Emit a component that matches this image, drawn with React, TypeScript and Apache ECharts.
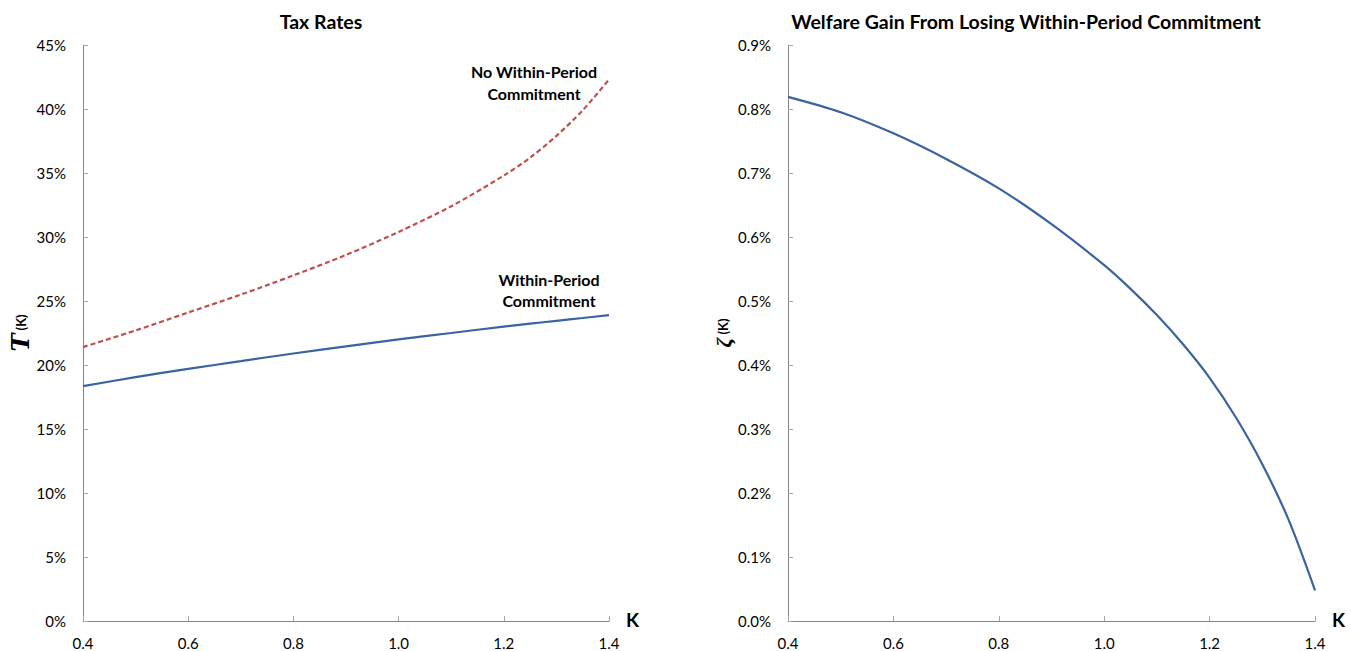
import React, { useEffect, useRef } from 'react';
import * as echarts from 'echarts';

const kTax = [0.4, 0.5, 0.6, 0.7, 0.8, 0.9, 1.0, 1.1, 1.2, 1.25, 1.3, 1.35, 1.4];
const taxCommit = [18.35, 19.05, 19.7, 20.3, 20.9, 21.45, 22.0, 22.5, 23.0, 23.23, 23.45, 23.67, 23.9];
const taxNoCommit = [21.4, 22.7, 24.1, 25.5, 27.0, 28.6, 30.4, 32.4, 34.8, 36.2, 37.9, 39.9, 42.3];

const kWelfare = [0.4, 0.5, 0.6, 0.7, 0.8, 0.9, 1.0, 1.05, 1.1, 1.15, 1.2, 1.25, 1.3, 1.35, 1.4];
const welfareGain = [0.819, 0.795, 0.762, 0.722, 0.676, 0.62, 0.556, 0.519, 0.478, 0.432, 0.38, 0.318, 0.245, 0.158, 0.048];

const xTicks = { min: 0.4, max: 1.4, interval: 0.2 };
const taxTicks = { min: 0, max: 45, interval: 5 };
const welfareTicks = { min: 0, max: 0.9, interval: 0.1 };

const FONT = 'Lato, "Open Sans", sans-serif';
const AXIS_COLOR = '#868686';
const TICK_COLOR = '#A6A6A6';
const BLUE = '#3A63A0';
const RED = '#C0504D';

function pairs(xs: number[], ys: number[]) {
  return xs.map((x, i) => [x, ys[i]]);
}

export default function App() {
  const ref = useRef<HTMLDivElement>(null);
  useEffect(() => {
    if (!ref.current) return;
    const chart = echarts.init(ref.current, null, { renderer: 'svg' });
    const xAxisBase = (gridIndex: number) => ({
      type: 'value',
      gridIndex,
      min: xTicks.min,
      max: xTicks.max,
      interval: xTicks.interval,
      name: 'K',
      nameLocation: 'end',
      nameGap: 17,
      nameTextStyle: { fontFamily: FONT, fontWeight: 'bold', fontSize: 19, color: '#000', verticalAlign: 'bottom', padding: [0, 0, -8, 0] },
      axisLine: { show: true, onZero: false, lineStyle: { color: AXIS_COLOR, width: 1 } },
      axisTick: { show: true, inside: true, length: 5, lineStyle: { color: TICK_COLOR } },
      axisLabel: { fontFamily: FONT, fontSize: 15, color: '#000', margin: 14, formatter: (v: number) => v.toFixed(1) },
      splitLine: { show: false },
    });
    const yAxisBase = (gridIndex: number, t: any, fmt: (v: number) => string) => ({
      type: 'value',
      gridIndex,
      min: t.min,
      max: t.max,
      interval: t.interval,
      axisLine: { show: true, lineStyle: { color: AXIS_COLOR, width: 1 } },
      axisTick: { show: true, inside: true, length: 5, lineStyle: { color: TICK_COLOR } },
      axisLabel: { fontFamily: FONT, fontSize: 15, color: '#000', margin: 17, formatter: fmt },
      splitLine: { show: false },
      nameLocation: 'middle',
      nameRotate: 90,
    });
    chart.setOption({
      animation: false,
      backgroundColor: '#fff',
      title: [
        { text: 'Tax Rates', left: 316, top: 6, textAlign: 'center', textStyle: { fontFamily: FONT, fontWeight: 'bold', fontSize: 19.5, color: '#000' } },
        { text: 'Welfare Gain From Losing Within-Period Commitment', left: 1021, top: 6, textAlign: 'center', textStyle: { fontFamily: FONT, fontWeight: 'bold', fontSize: 19.5, color: '#000' } },
      ],
      grid: [
        { left: 83, top: 45, width: 526, height: 576 },
        { left: 788, top: 45, width: 527, height: 576 },
      ],
      xAxis: [xAxisBase(0), xAxisBase(1)],
      yAxis: [
        {
          ...yAxisBase(0, taxTicks, (v: number) => `${Math.round(v)}%`),
          name: '{t|T} {k|(K)}',
          nameGap: 38,
          nameTextStyle: {
            rich: {
              t: { fontFamily: '"DejaVu Serif", serif', fontStyle: 'italic', fontWeight: 'bold', fontSize: 24, color: '#000' },
              k: { fontFamily: FONT, fontWeight: 'bold', fontSize: 13, color: '#000' },
            },
          },
        },
        {
          ...yAxisBase(1, welfareTicks, (v: number) => `${v.toFixed(1)}%`),
          name: '{t|ζ} {k|(K)}',
          nameGap: 54,
          nameTextStyle: {
            rich: {
              t: { fontFamily: '"Liberation Serif", serif', fontStyle: 'italic', fontWeight: 'bold', fontSize: 22, color: '#000' },
              k: { fontFamily: FONT, fontWeight: 'bold', fontSize: 13, color: '#000' },
            },
          },
        },
      ],
      series: [
        {
          name: 'Within-Period Commitment',
          type: 'line',
          xAxisIndex: 0,
          yAxisIndex: 0,
          data: pairs(kTax, taxCommit),
          smooth: 0.3,
          showSymbol: false,
          lineStyle: { color: BLUE, width: 2.2 },
        },
        {
          name: 'No Within-Period Commitment',
          type: 'line',
          xAxisIndex: 0,
          yAxisIndex: 0,
          data: pairs(kTax, taxNoCommit),
          smooth: 0.3,
          showSymbol: false,
          lineStyle: { color: RED, width: 2.2, type: [5, 3] },
        },
        {
          name: 'Welfare Gain',
          type: 'line',
          xAxisIndex: 1,
          yAxisIndex: 1,
          data: pairs(kWelfare, welfareGain),
          smooth: 0.3,
          showSymbol: false,
          lineStyle: { color: BLUE, width: 2.2 },
        },
      ],
      graphic: [
        {
          type: 'text',
          x: 534,
          y: 60,
          style: {
            text: 'No Within-Period\nCommitment',
            align: 'center',
            fontFamily: FONT,
            fontWeight: 'bold',
            fontSize: 16,
            lineHeight: 22,
            fill: '#000',
          },
        },
        {
          type: 'text',
          x: 549,
          y: 269,
          style: {
            text: 'Within-Period\nCommitment',
            align: 'center',
            fontFamily: FONT,
            fontWeight: 'bold',
            fontSize: 16,
            lineHeight: 21,
            fill: '#000',
          },
        },
      ],
    });
    return () => chart.dispose();
  }, []);
  return <div ref={ref} style={{ position: 'fixed', left: 0, top: 0, width: 1351, height: 651 }} />;
}
